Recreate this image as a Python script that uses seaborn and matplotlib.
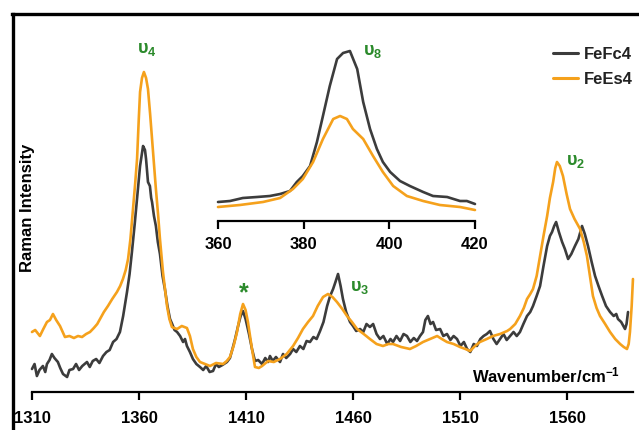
import matplotlib
matplotlib.use('Agg')
import matplotlib.pyplot as plt
import seaborn as sns

# ---------------- main spectrum data (wavenumber, intensity a.u.) ----------------
fc_wn = [1310.0, 1311.2, 1312.3, 1313.5, 1315.1, 1316.2, 1317.0, 1318.2, 1319.3, 1320.5,
         1322.1, 1323.2, 1324.5, 1326.4, 1327.5, 1329.2, 1330.6, 1332.0, 1333.5, 1335.7,
         1337.0, 1338.4, 1340.0, 1341.5, 1343.2, 1344.8, 1346.3, 1347.9, 1349.5, 1351.1,
         1352.6, 1354.4, 1355.6, 1356.7, 1358.0, 1359.1, 1360.5, 1361.9, 1362.8, 1363.3,
         1364.2, 1365.1, 1365.7, 1366.1, 1367.0, 1367.9, 1368.8, 1369.8, 1371.0, 1372.1,
         1373.3, 1374.5, 1375.5, 1376.6, 1377.8, 1379.2, 1380.6, 1381.5, 1382.4, 1383.8,
         1385.2, 1386.8, 1388.5, 1390.0, 1391.4, 1393.0, 1394.6, 1396.0, 1397.3, 1399.0,
         1401.1, 1402.5, 1403.8, 1404.9, 1406.3, 1407.5, 1408.6, 1409.8, 1411.4, 1412.8,
         1414.2, 1415.7, 1417.5, 1419.0, 1420.3, 1421.2, 1422.5, 1424.0, 1425.9, 1427.3,
         1428.8, 1430.6, 1432.0, 1433.5, 1435.2, 1436.8, 1438.3, 1439.9, 1441.5, 1443.0,
         1444.6, 1446.2, 1447.9, 1449.3, 1450.7, 1451.8, 1453.0, 1454.2, 1455.3, 1456.8,
         1458.6, 1460.0, 1461.5, 1463.3, 1464.8, 1466.3, 1467.9, 1469.4, 1471.0, 1472.6,
         1474.2, 1476.0, 1477.5, 1478.7, 1480.3, 1482.0, 1483.6, 1485.2, 1486.8, 1488.4,
         1489.9, 1491.3, 1492.7, 1493.8, 1495.0, 1496.2, 1497.4, 1498.8, 1500.7, 1502.2,
         1503.9, 1505.5, 1507.0, 1508.6, 1510.2, 1511.8, 1513.3, 1514.8, 1516.4, 1517.9,
         1519.5, 1521.0, 1522.5, 1524.0, 1525.6, 1527.1, 1528.7, 1530.3, 1531.8, 1533.4,
         1535.0, 1536.5, 1538.0, 1539.6, 1541.3, 1542.8, 1544.1, 1545.8, 1547.4, 1549.0,
         1550.7, 1552.0, 1553.0, 1554.0, 1554.9, 1556.2, 1557.7, 1559.0, 1560.5, 1562.0,
         1563.7, 1565.3, 1567.0, 1568.3, 1569.8, 1571.5, 1573.1, 1574.7, 1576.4, 1578.2,
         1580.1, 1581.8, 1583.0, 1583.8, 1585.3, 1587.1, 1587.8, 1588.5]
fc_int = [25, 30, 18, 24, 28, 22, 30, 34, 40, 36,
          32, 26, 20, 17, 24, 25, 30, 24, 28, 32,
          27, 33, 35, 31, 38, 42, 44, 52, 55, 62,
          78, 102, 120, 142, 170, 195, 228, 248, 244, 235,
          212, 208, 196, 192, 178, 168, 152, 140, 118, 105,
          88, 75, 70, 64, 62, 58, 52, 55, 48, 42,
          35, 30, 27, 24, 28, 22, 23, 30, 27, 29,
          32, 36, 46, 55, 68, 78, 83, 75, 60, 45,
          33, 34, 30, 36, 32, 38, 33, 37, 32, 40,
          36, 40, 45, 42, 48, 45, 53, 52, 57, 55,
          63, 72, 88, 98, 105, 112, 120, 108, 95, 82,
          72, 68, 63, 65, 62, 70, 67, 70, 60, 55,
          58, 50, 55, 52, 58, 53, 60, 58, 52, 56,
          53, 58, 62, 74, 78, 70, 72, 64, 65, 58,
          60, 54, 58, 55, 48, 52, 45, 42, 50, 48,
          55, 58, 60, 63, 55, 50, 55, 60, 54, 58,
          62, 58, 62, 70, 78, 82, 88, 98, 108, 128,
          148, 158, 162, 168, 172, 162, 152, 145, 135, 140,
          148, 155, 168, 160, 148, 132, 118, 108, 98, 88,
          82, 78, 80, 75, 72, 65, 70, 82]

es_wn = [1310.0, 1311.5, 1313.7, 1315.3, 1317.0, 1318.4, 1319.8, 1321.3, 1323.1, 1325.4,
         1327.5, 1329.6, 1331.5, 1333.4, 1335.3, 1337.1, 1338.9, 1340.5, 1341.8, 1343.6,
         1345.5, 1347.5, 1349.7, 1351.2, 1352.5, 1353.8, 1354.9, 1356.0, 1357.2, 1358.2,
         1359.1, 1359.9, 1360.5, 1361.4, 1362.3, 1363.3, 1364.2, 1365.2, 1366.1, 1367.0,
         1367.9, 1368.9, 1369.8, 1370.5, 1371.2, 1372.2, 1373.1, 1374.2, 1375.4, 1376.5,
         1377.8, 1380.0, 1382.4, 1383.8, 1385.2, 1386.8, 1388.5, 1390.8, 1393.2, 1396.0,
         1399.3, 1401.0, 1402.5, 1404.2, 1405.8, 1407.3, 1408.6, 1409.8, 1410.9, 1411.9,
         1412.8, 1414.2, 1416.0, 1417.5, 1420.3, 1423.0, 1425.9, 1429.0, 1432.0, 1434.3,
         1436.6, 1439.0, 1441.3, 1443.5, 1446.0, 1448.3, 1450.4, 1452.5, 1455.0, 1457.2,
         1459.5, 1461.9, 1465.0, 1467.9, 1471.0, 1474.0, 1476.5, 1478.7, 1482.5, 1486.6,
         1489.5, 1492.7, 1496.0, 1499.3, 1501.5, 1503.9, 1507.0, 1510.0, 1512.5, 1514.7,
         1517.0, 1519.3, 1522.5, 1525.4, 1528.7, 1532.0, 1533.4, 1535.8, 1538.0, 1539.8,
         1541.3, 1542.8, 1544.1, 1545.8, 1547.4, 1549.0, 1550.7, 1552.0, 1553.5, 1554.5,
         1555.3, 1556.6, 1558.1, 1559.8, 1561.4, 1563.5, 1566.1, 1567.8, 1569.3, 1570.7,
         1572.1, 1573.8, 1575.4, 1577.8, 1580.1, 1582.5, 1584.8, 1586.5, 1588.0, 1588.8,
         1589.4, 1590.2, 1590.8]
es_int = [62, 64, 58, 65, 72, 74, 80, 74, 68, 57,
          58, 56, 58, 57, 60, 62, 66, 70, 75, 82,
          88, 95, 102, 108, 115, 124, 135, 155, 185, 210,
          235, 275, 302, 316, 322, 316, 305, 280, 255, 230,
          205, 180, 155, 138, 122, 104, 88, 75, 67, 66,
          65, 68, 66, 58, 45, 37, 32, 30, 28, 31,
          30, 33, 37, 48, 62, 80, 90, 84, 72, 58,
          45, 27, 26, 28, 33, 32, 35, 40, 48, 56,
          65, 72, 78, 88, 97, 100, 97, 92, 85, 78,
          72, 65, 60, 55, 50, 48, 50, 50, 47, 45,
          48, 52, 55, 58, 55, 52, 50, 47, 45, 43,
          48, 52, 55, 58, 60, 63, 65, 70, 78, 86,
          95, 100, 105, 118, 138, 158, 178, 196, 212, 226,
          232, 228, 218, 200, 185, 175, 165, 152, 138, 118,
          98, 86, 78, 70, 62, 55, 50, 47, 45, 50,
          62, 88, 115]

# ---------------- inset data (low-frequency region) ----------------
fc_in_wn = [360.0, 362.8, 365.8, 369.1, 372.1, 374.5, 376.8, 378.4, 379.8, 381.5,
            383.1, 384.5, 386.1, 387.8, 389.2, 390.8, 392.5, 393.9, 395.5, 397.1,
            398.5, 400.2, 402.5, 404.8, 407.9, 410.2, 413.5, 416.5, 418.1, 420.0]
fc_in_int = [27, 28, 31, 32, 33, 35, 38, 47, 53, 63,
             87, 113, 143, 170, 176, 178, 160, 127, 100, 80,
             67, 57, 48, 43, 37, 33, 32, 28, 28, 25]
es_in_wn = [360.0, 365.1, 370.5, 374.5, 377.5, 379.8, 382.2, 384.5, 386.9, 388.5,
            390.1, 391.5, 393.9, 396.2, 398.5, 400.9, 404.1, 407.9, 411.8, 416.5, 420.0]
es_in_int = [22, 24, 27, 31, 40, 50, 67, 90, 110, 113,
             110, 100, 90, 73, 57, 43, 33, 28, 24, 22, 19]

main_ticks = [1310, 1360, 1410, 1460, 1510, 1560]
inset_ticks = [360, 380, 400, 420]
series_names = ['FeFc4', 'FeEs4']

BLACK = '#3c3c3c'
ORANGE = '#f5a11c'
GREEN = '#2b8a2b'

sns.set_theme(style='white')
plt.rcParams['font.family'] = ['Liberation Sans', 'DejaVu Sans']
plt.rcParams['font.weight'] = 'bold'
plt.rcParams['mathtext.fontset'] = 'custom'
plt.rcParams['mathtext.rm'] = 'Liberation Sans:bold'
plt.rcParams['mathtext.bf'] = 'Liberation Sans:bold'
plt.rcParams['mathtext.it'] = 'Liberation Sans:bold'

W, H = 639, 431
fig = plt.figure(figsize=(W / 100, H / 100), dpi=100)
fig.patch.set_facecolor('white')

# ---------------- main axes ----------------
ax = fig.add_axes([12.5 / W, 1 - 445 / H, (655 - 12.5) / W, (445 - 14.5) / H])
ax.set_facecolor('white')
sns.lineplot(x=fc_wn, y=fc_int, ax=ax, color=BLACK, lw=1.9, label=series_names[0],
             estimator=None, sort=False)
sns.lineplot(x=es_wn, y=es_int, ax=ax, color=ORANGE, lw=1.9, label=series_names[1],
             estimator=None, sort=False)
ax.set_xlim(1300.9, 1601.1)
ax.set_ylim(-50, 380.5)
ax.set_yticks([])
ax.set_xticks(main_ticks)
ax.set_xlabel('')
ax.set_ylabel('')
for s in ['left', 'top']:
    ax.spines[s].set_linewidth(2.4)
    ax.spines[s].set_color('black')
ax.spines['right'].set_visible(False)
ax.spines['bottom'].set_position(('data', 2))
ax.spines['bottom'].set_bounds(1310, 1591)
ax.spines['bottom'].set_linewidth(1.6)
ax.spines['bottom'].set_color('black')
ax.tick_params(axis='x', bottom=True, direction='out', length=6, width=1.6,
               pad=7, labelsize=12, colors='black')

ax.text(1308.1, 187, 'Raman Intensity', rotation=90, ha='center', va='center',
        fontsize=12, fontweight='bold', color='black')
ax.text(1515.6, 13, 'Wavenumber/cm$^{-1}$', ha='left', va='baseline',
        fontsize=12, fontweight='bold', color='black')

ax.text(1363.7, 345, 'υ$_{4}$', ha='center', va='center', fontsize=13,
        fontweight='bold', color=GREEN)
ax.text(1564.2, 234, 'υ$_{2}$', ha='center', va='center', fontsize=13,
        fontweight='bold', color=GREEN)
ax.text(1463.3, 108, 'υ$_{3}$', ha='center', va='center', fontsize=13,
        fontweight='bold', color=GREEN)
ax.text(1409.1, 102, '*', ha='center', va='center', fontsize=18,
        fontweight='bold', color=GREEN)

leg = ax.legend(loc='upper right', bbox_to_anchor=(636 / W, 1 - 44 / H),
                bbox_transform=fig.transFigure, frameon=False, fontsize=12,
                handlelength=1.5, handletextpad=0.35, labelspacing=0.6,
                borderpad=0.2, borderaxespad=0)
for line in leg.get_lines():
    line.set_linewidth(2.2)
for t in leg.get_texts():
    t.set_fontweight('bold')
    t.set_color('#222222')

# ---------------- inset axes ----------------
axin = fig.add_axes([200 / W, 1 - 235 / H, 300 / W, 205 / H])
axin.patch.set_alpha(0)
sns.lineplot(x=fc_in_wn, y=fc_in_int, ax=axin, color=BLACK, lw=1.9,
             estimator=None, sort=False, legend=False)
sns.lineplot(x=es_in_wn, y=es_in_int, ax=axin, color=ORANGE, lw=1.9,
             estimator=None, sort=False, legend=False)
axin.set_xlim(355.8, 425.84)
axin.set_ylim(-5, 200)
axin.set_yticks([])
axin.set_xticks(inset_ticks)
axin.set_xlabel('')
axin.set_ylabel('')
for s in ['left', 'top', 'right']:
    axin.spines[s].set_visible(False)
axin.spines['bottom'].set_position(('data', 8))
axin.spines['bottom'].set_bounds(360, 420)
axin.spines['bottom'].set_linewidth(1.6)
axin.spines['bottom'].set_color('black')
axin.tick_params(axis='x', bottom=True, direction='out', length=6, width=1.6,
                 pad=5, labelsize=12, colors='black')
axin.text(396.0, 179, 'υ$_{8}$', ha='center', va='center', fontsize=13,
          fontweight='bold', color=GREEN)

fig.savefig('out.png', dpi=100)
